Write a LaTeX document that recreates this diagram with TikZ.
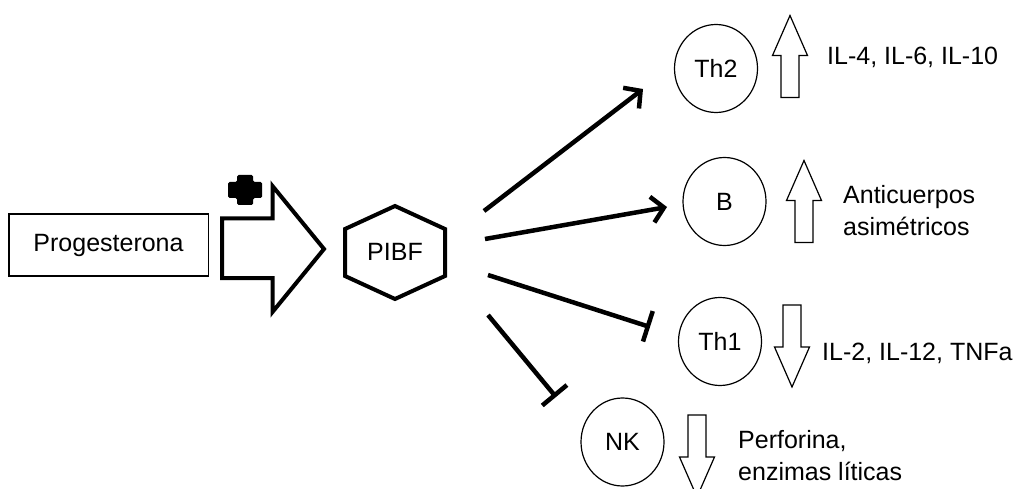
\documentclass[tikz,border=0pt]{standalone}
\usepackage{fontspec}
\setmainfont{Liberation Sans}
\usetikzlibrary{arrows.meta, shapes.geometric}

\begin{document}
\begin{tikzpicture}[x=1pt, y=-1pt, font=\fontsize{25}{32}\selectfont,
		celula/.style = {draw, ellipse, line width=1.2pt, minimum width=83pt, minimum height=88pt, inner sep=0pt},
		efecto/.style = {anchor=base west, align=left, inner sep=0pt},
		activa/.style = {line width=4.5pt, -{Straight Barb[length=12pt, width=26pt]}},
		inhibe/.style = {line width=4.5pt, -{Bar[width=32pt]}},
		sube/.pic = {\draw[line width=1.2pt] (-9,41)--(-9,-1)--(-17.5,-1)--(0,-41)--(17.5,-1)--(9,-1)--(9,41)--cycle;}
	]
		\path[use as bounding box, fill=white] (0,0) rectangle (1017,489);
		% progesterona y flecha grande
		\node[draw, line width=1.5pt, minimum width=199.5pt, minimum height=62pt] (prog) at (108.5,245) {Progesterona};
		\draw[line width=4pt] (222,218.5)--(272.5,218.5)--(272.5,186)--(324,249)--(272.5,312)--(272.5,278)--(222,278)--cycle;
		\fill[rounded corners=1.5pt] (237,175)--(253,175)--(253,182)--(262,182)--(262,198)--(253,198)--(253,205)--(237,205)--(237,198)--(228,198)--(228,182)--(237,182)--cycle;
		% PIBF
		\draw[line width=4pt] (395,206)--(445,229)--(445,276)--(395,299)--(345,276)--(345,229)--cycle;
		\node (pibf) at (395,252) {PIBF};
		% celulas
		\node[celula] (th2) at (716,68.5) {Th2};
		\node[celula] (b) at (724.5,201.5) {B};
		\node[celula] (th1) at (720,341.5) {Th1};
		\node[celula] (nk) at (622.5,442) {NK};
		\pic at (790,56.5) {sube};
		\pic at (804,201.5) {sube};
		\pic[rotate=180] at (792,346) {sube};
		\pic[rotate=180] at (697,456) {sube};
		\node[efecto] (th2txt) at (827,65) {IL-4, IL-6, IL-10};
		\node[efecto] (btxt) at (843,235) {Anticuerpos\\asimétricos};
		\node[efecto] (th1txt) at (822,360) {IL-2, IL-12, TNFa};
		\node[efecto] (nktxt) at (738,480) {Perforina,\\enzimas líticas};
		% conectores
		\coordinate (s1) at (484,211);
		\coordinate (e1) at (643,89);
		\coordinate (s2) at (485,239);
		\coordinate (e2) at (667,207);
		\coordinate (s3) at (488,275);
		\coordinate (e3) at (650,327);
		\coordinate (s4) at (488,315);
		\coordinate (e4) at (556,397);
		\draw[activa] (s1)--(e1);
		\draw[activa] (s2)--(e2);
		\draw[inhibe] (s3)--(e3);
		\draw[inhibe] (s4)--(e4);
	\end{tikzpicture}
\end{document}
